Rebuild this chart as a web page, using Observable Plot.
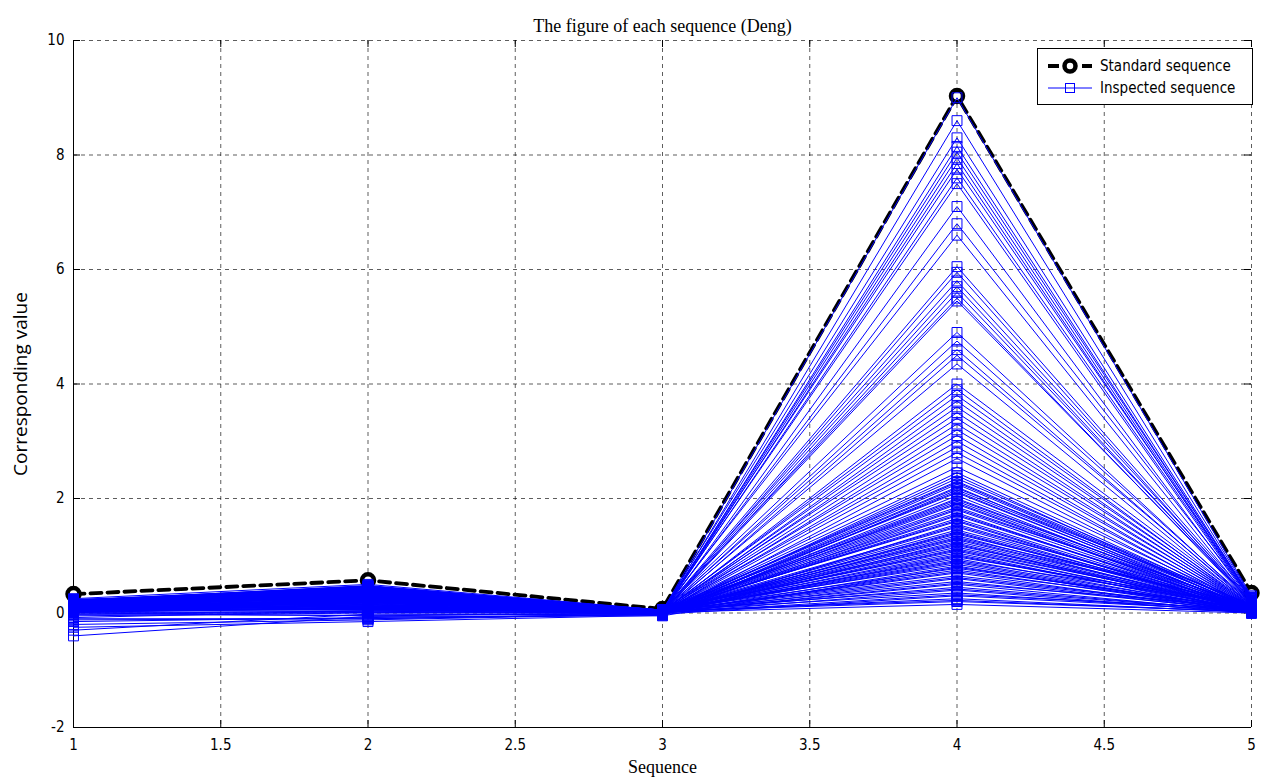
<!DOCTYPE html>
<html>
<head>
<meta charset="utf-8">
<script src="https://cdn.jsdelivr.net/npm/d3@7"></script>
<script src="https://cdn.jsdelivr.net/npm/@observablehq/plot@0.6"></script>
<style>
  body { margin: 0; background: #fff; }
  #wrap { position: relative; width: 1263px; height: 784px; }
  #legend { position: absolute; left: 1037px; top: 48px; width: 214px; height: 55px;
    border: 1px solid #000; background: #fff; font-family: "Liberation Sans Narrow", "DejaVu Sans Condensed", "Liberation Sans", sans-serif; font-size: 15px; }
  .row { position: absolute; left: 8px; height: 20px; display: flex; align-items: center; }
  .row span { margin-left: 6px; }
</style>
</head>
<body>
<div id="wrap"></div>
<script>
const title = "The figure of each sequence (Deng)";
const xLabel = "Sequence";
const yLabel = "Corresponding value";
const xTicks = [1, 1.5, 2, 2.5, 3, 3.5, 4, 4.5, 5];
const yTicks = [-2, 0, 2, 4, 6, 8, 10];
const legendLabels = ["Standard sequence", "Inspected sequence"];

// Standard sequence (values at positions 1..5)
const standard = [0.33, 0.57, 0.07, 9.03, 0.35];

// Inspected sequences: value at each position, one entry per sequence
const seq1 = [
  0.22, 0.18, 0.25, 0.12, 0.2, 0.15, 0.08, 0.21, 0.1, 0.17,
  0.05, 0.19, 0.13, 0.24, 0.02, 0.16, 0.11, 0.2, 0.07, 0.14,
  0.23, 0.09, 0.18, -0.05, 0.12, 0.21, 0.04, 0.15, 0.1, 0.19,
  0.06, 0.22, 0.13, 0.0, 0.17, 0.08, 0.2, 0.11, -0.1, 0.16,
  0.14, 0.03, 0.21, 0.09, 0.18, -0.15, 0.12, 0.05, 0.2, 0.1,
  0.15, 0.07, -0.2, 0.19, 0.01, 0.13, 0.22, -0.25, 0.08, 0.17,
  0.11, 0.04, 0.18, -0.3, 0.14, 0.06, 0.2, 0.09, -0.02, 0.16,
  0.12, 0.23, -0.4, 0.05, 0.15, 0.1, -0.08, 0.19, 0.03, 0.13,
  0.07, 0.17, -0.12, 0.11, 0.2, 0.02,
  0.1, 0.16, 0.04, 0.19, 0.13, 0.07, 0.21, 0.0, 0.14, 0.09,
  0.18, 0.03, 0.12, 0.2, 0.06, 0.15, -0.03, 0.11, 0.17, 0.08,
  0.22, 0.01, 0.13, 0.05, 0.19, 0.1, 0.16, 0.02, 0.12, 0.07
];
const seq2 = [
  0.45, 0.38, 0.5, 0.3, 0.42, 0.25, 0.35, 0.48, 0.2, 0.4,
  0.15, 0.33, 0.44, 0.28, 0.1, 0.37, 0.22, 0.46, 0.05, 0.31,
  0.41, 0.18, 0.36, 0.0, 0.27, 0.43, 0.12, 0.34, 0.24, 0.39,
  0.08, 0.47, 0.29, -0.05, 0.32, 0.16, 0.4, 0.21, -0.1, 0.35,
  0.26, 0.06, 0.44, 0.19, 0.37, -0.08, 0.3, 0.13, 0.42, 0.23,
  0.33, 0.11, -0.12, 0.38, 0.03, 0.28, 0.45, -0.15, 0.17, 0.36,
  0.25, 0.09, 0.4, -0.02, 0.31, 0.14, 0.43, 0.2, 0.01, 0.34,
  0.27, 0.46, -0.06, 0.12, 0.32, 0.22, 0.04, 0.39, 0.07, 0.29,
  0.18, 0.35, -0.1, 0.24, 0.41, 0.1,
  0.3, 0.15, 0.42, 0.08, 0.36, 0.22, 0.45, 0.02, 0.27, 0.38,
  0.12, 0.33, 0.19, 0.47, 0.06, 0.29, -0.04, 0.4, 0.24, 0.14,
  0.35, 0.09, 0.43, 0.18, 0.31, 0.05, 0.26, 0.39, 0.11, 0.21
];
const seq3 = [
  0.04, 0.02, 0.05, 0.01, 0.03, 0.02, 0.0, 0.04, 0.01, 0.03,
  0.0, 0.02, 0.05, 0.03, 0.01, 0.04, 0.02, 0.0, 0.03, 0.01,
  0.05, 0.02, 0.04, 0.0, 0.03, 0.01, 0.02, 0.04, 0.0, 0.03,
  0.01, 0.05, 0.02, 0.0, 0.04, 0.01, 0.03, 0.02, -0.02, 0.04,
  0.03, 0.0, 0.05, 0.01, 0.02, -0.03, 0.04, 0.0, 0.03, 0.02,
  0.01, 0.04, -0.02, 0.03, 0.0, 0.02, 0.05, -0.04, 0.01, 0.03,
  0.02, 0.0, 0.04, -0.03, 0.03, 0.01, 0.05, 0.02, 0.0, 0.04,
  0.03, 0.05, -0.05, 0.01, 0.02, 0.04, 0.0, 0.03, 0.01, 0.02,
  0.0, 0.04, -0.02, 0.02, 0.03, 0.01,
  0.02, 0.04, 0.01, 0.03, 0.0, 0.05, 0.02, 0.01, 0.04, 0.03,
  0.0, 0.02, 0.05, 0.01, 0.03, 0.04, 0.0, 0.02, 0.03, 0.01,
  0.05, 0.0, 0.04, 0.02, 0.01, 0.03, 0.05, 0.0, 0.02, 0.04
];
const seq4 = [
  9.0, 8.6, 8.3, 8.15, 8.05, 7.95, 7.85, 7.75, 7.6, 7.5,
  7.1, 6.8, 6.6, 6.05, 5.95, 5.8, 5.7, 5.6, 5.5, 5.45,
  4.9, 4.75, 4.6, 4.5, 4.35, 4.0, 3.9, 3.8, 3.7, 3.6,
  3.5, 3.4, 3.3, 3.2, 3.1, 3.0, 2.9, 2.8, 2.7, 2.55,
  2.45, 2.4, 2.3, 2.25, 2.2, 2.15, 2.1, 2.05, 2.0, 1.95,
  1.9, 1.85, 1.8, 1.75, 1.7, 1.65, 1.6, 1.55, 1.5, 1.45,
  1.4, 1.35, 1.3, 1.25, 1.2, 1.15, 1.1, 1.05, 1.0, 0.95,
  0.9, 0.85, 0.8, 0.75, 0.7, 0.65, 0.6, 0.55, 0.5, 0.45,
  0.4, 0.35, 0.3, 0.25, 0.2, 0.15,
  2.35, 2.28, 2.18, 2.12, 1.98, 1.92, 1.82, 1.72, 1.62, 1.52,
  1.42, 1.32, 1.22, 1.12, 1.02, 0.92, 0.82, 0.72, 0.62, 0.52,
  0.42, 0.32, 0.22, 1.38, 1.28, 1.18, 1.08, 0.98, 0.88, 0.78
];
const seq5 = [
  0.3, 0.28, 0.26, 0.25, 0.27, 0.24, 0.22, 0.26, 0.23, 0.21,
  0.2, 0.25, 0.19, 0.22, 0.18, 0.21, 0.17, 0.2, 0.16, 0.19,
  0.15, 0.18, 0.14, 0.17, 0.13, 0.16, 0.12, 0.15, 0.11, 0.14,
  0.1, 0.13, 0.09, 0.12, 0.08, 0.11, 0.07, 0.1, 0.06, 0.12,
  0.09, 0.05, 0.11, 0.08, 0.04, 0.1, 0.07, 0.03, 0.09, 0.06,
  0.02, 0.08, 0.05, 0.01, 0.07, 0.04, 0.0, 0.06, 0.03, 0.08,
  0.05, 0.02, 0.07, 0.04, 0.01, 0.06, 0.03, 0.0, 0.05, 0.02,
  0.04, 0.01, 0.06, 0.03, 0.0, 0.05, 0.02, 0.04, 0.01, 0.03,
  0.0, 0.02, 0.04, 0.01, 0.03, 0.0,
  0.12, 0.08, 0.15, 0.05, 0.1, 0.03, 0.13, 0.07, 0.01, 0.11,
  0.06, 0.14, 0.02, 0.09, 0.04, 0.12, 0.0, 0.08, 0.05, 0.1,
  0.03, 0.07, 0.02, 0.11, 0.06, 0.09, 0.04, 0.13, 0.01, 0.08
];

const positions = [1, 2, 3, 4, 5];
const seqs = [seq1, seq2, seq3, seq4, seq5];
const stdData = standard.map((v, i) => ({x: positions[i], y: v}));
const inspData = [];
seq4.forEach((_, s) => {
  positions.forEach((p, j) => inspData.push({series: s, x: p, y: seqs[j][s]}));
});

const W = 1263, H = 784;
const mt = 40, mb = 57, ml = 73, mr = 12;
const ph = H - mt - mb, pw = W - ml - mr;
const tick = 7;
const tickFont = "'Liberation Sans Narrow', 'DejaVu Sans Condensed', 'Liberation Sans', sans-serif";

const chart = Plot.plot({
  width: W, height: H,
  marginTop: mt, marginBottom: mb, marginLeft: ml, marginRight: mr,
  style: {fontFamily: tickFont, fontSize: "15px", background: "#fff", overflow: "visible"},
  x: {domain: [1, 5], ticks: xTicks},
  y: {domain: [-2, 10], ticks: yTicks},
  marks: [
    Plot.gridX(xTicks.filter(d => d !== 1), {stroke: "#000", strokeOpacity: 0.8, strokeDasharray: "4,4", strokeWidth: 0.8}),
    Plot.gridY(yTicks.filter(d => d !== -2), {stroke: "#000", strokeOpacity: 0.8, strokeDasharray: "4,4", strokeWidth: 0.8}),
    Plot.ruleX([1], {stroke: "#000", strokeWidth: 1}),
    Plot.ruleY([-2], {stroke: "#000", strokeWidth: 1}),
    // inward ticks
    Plot.tickX(xTicks, {x: d => d, insetTop: ph - tick, stroke: "#000"}),
    Plot.tickX(xTicks, {x: d => d, insetBottom: ph - tick, stroke: "#000"}),
    Plot.tickY(yTicks, {y: d => d, insetRight: pw - tick, stroke: "#000"}),
    Plot.tickY(yTicks, {y: d => d, insetLeft: pw - tick, stroke: "#000"}),
    Plot.axisX(xTicks, {tickSize: 0, tickPadding: 12, label: null, fontSize: 15, tickFormat: d => String(d)}),
    Plot.axisY(yTicks, {tickSize: 0, tickPadding: 9, label: null, fontSize: 15, tickFormat: d => String(d)}),
    // standard sequence
    Plot.line(stdData, {x: "x", y: "y", stroke: "#000", strokeWidth: 3.8, strokeDasharray: "11,6"}),
    Plot.dot(stdData, {x: "x", y: "y", r: 6, stroke: "#000", strokeWidth: 4.5, fill: "#fff"}),
    // inspected sequences
    Plot.line(inspData, {x: "x", y: "y", z: "series", stroke: "#0000ff", strokeWidth: 1}),
    Plot.dot(inspData, {x: "x", y: "y", symbol: "square", r: 5.6, stroke: "#0000ff", strokeWidth: 1, fill: "none"}),
    // titles
    Plot.text([title], {frameAnchor: "top", dy: -21, fontFamily: "'Liberation Serif', serif", fontSize: 18, fill: "#000"}),
    Plot.text([xLabel], {frameAnchor: "bottom", dy: 45, fontFamily: "'Liberation Serif', serif", fontSize: 18, fill: "#000"}),
    Plot.text([yLabel], {frameAnchor: "left", dx: -53, rotate: -90, textAnchor: "middle", fontFamily: "'Open Sans', sans-serif", fontSize: 19, fill: "#000"})
  ]
});

const wrap = document.getElementById("wrap");
wrap.appendChild(chart);

// legend
const lg = d3.select(wrap).append("div").attr("id", "legend");
const rows = [
  {label: legendLabels[0], top: 7, std: true},
  {label: legendLabels[1], top: 29, std: false}
];
rows.forEach(r => {
  const row = lg.append("div").attr("class", "row").style("top", r.top + "px");
  const s = row.append("svg").attr("width", 48).attr("height", 20);
  if (r.std) {
    s.append("line").attr("x1", 2).attr("x2", 46).attr("y1", 10).attr("y2", 10)
      .attr("stroke", "#000").attr("stroke-width", 3.8).attr("stroke-dasharray", "11,6");
    s.append("circle").attr("cx", 24).attr("cy", 10).attr("r", 5.5).attr("stroke", "#000")
      .attr("stroke-width", 4.5).attr("fill", "#fff");
  } else {
    s.append("line").attr("x1", 2).attr("x2", 46).attr("y1", 10).attr("y2", 10)
      .attr("stroke", "#0000ff").attr("stroke-width", 1);
    s.append("rect").attr("x", 19.5).attr("y", 5.5).attr("width", 9).attr("height", 9)
      .attr("stroke", "#0000ff").attr("stroke-width", 1).attr("fill", "none");
  }
  row.append("span").text(r.label);
});
</script>
</body>
</html>
